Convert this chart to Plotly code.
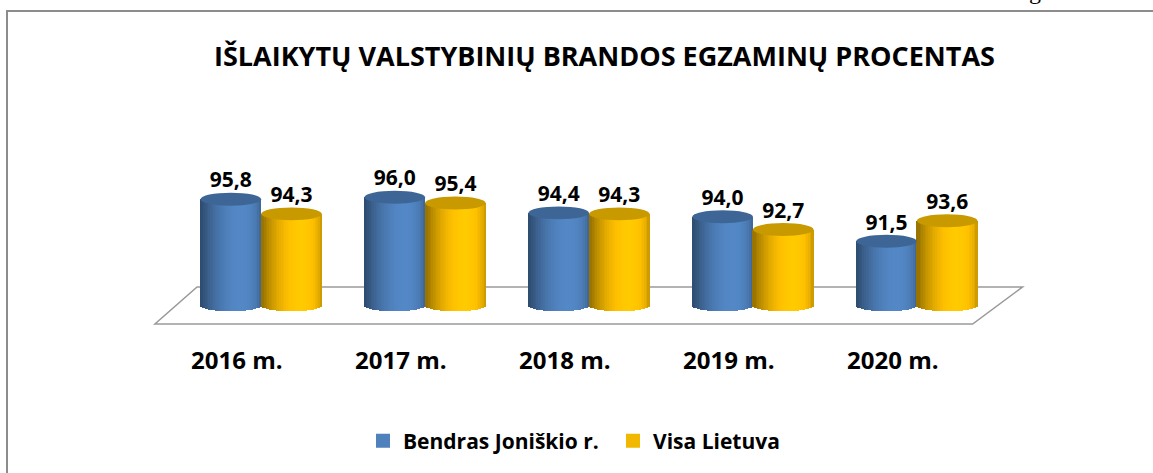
import math
import plotly.graph_objects as go

# ---- data ----
categories = ["2016 m.", "2017 m.", "2018 m.", "2019 m.", "2020 m."]
joniskio = [95.8, 96.0, 94.4, 94.0, 91.5]
lietuva = [94.3, 95.4, 94.3, 92.7, 93.6]
series_names = ["Bendras Joniškio r.", "Visa Lietuva"]
title_text = "IŠLAIKYTŲ VALSTYBINIŲ BRANDOS EGZAMINŲ PROCENTAS"

def fmt(v):
    return f"{v:.1f}".replace(".", ",")

# ---- geometry / style ----
W, H = 1153, 473
ML, MR, MT, MB = 130, 105, 158, 119
XR = [-0.8, 4.8]
YR = [80, 100]
BASE = 85.0
CYL_W = 0.37
E = 0.66           # half-height of ellipse caps (data units)
NSTRIP = 36
PW = W - ML - MR
PH = H - MT - MB

def px_to_paper_x(px):
    return (px - ML) / PW

def px_to_paper_y(py):
    return (H - MB - py) / PH

def shade(rgb, f):
    return "rgb(%d,%d,%d)" % tuple(max(0, min(255, int(round(c * f)))) for c in rgb)

series = [
    dict(vals=joniskio, off=-0.185, rgb=(79, 129, 189), cap="rgb(61,102,150)", name=series_names[0], leg="#4F81BD"),
    dict(vals=lietuva, off=0.185, rgb=(255, 192, 0), cap="rgb(200,154,0)", name=series_names[1], leg="#F2B800"),
]

fig = go.Figure()
shapes = []

# floor
fx_fl, fx_fr, fx_br, fx_bl = -0.648, len(categories) - 1 + 0.34, len(categories) - 1 + 0.645, -0.391
fy_front, fy_back = BASE - 1.94, BASE + 1.84
shapes.append(dict(type="path", xref="x", yref="y", layer="below",
                   path=f"M{fx_fl},{fy_front} L{fx_fr},{fy_front} L{fx_br},{fy_back} L{fx_bl},{fy_back} Z",
                   line=dict(color="#9A9A9A", width=1.5), fillcolor="white"))

for s in series:
    xs, offs, widths, bases, ys, cols = [], [], [], [], [], []
    for i, v in enumerate(s["vals"]):
        for k in range(NSTRIP):
            u = -1 + (2 * k + 1) / NSTRIP
            th = math.asin(max(-1, min(1, u)))
            inten = 0.6 + 0.45 * max(0.0, math.cos(th - 0.35)) ** 1.3
            b = BASE - E * math.sqrt(max(0.0, 1 - u * u))
            xs.append(i)
            offs.append(s["off"] - CYL_W / 2 + k * CYL_W / NSTRIP)
            widths.append(CYL_W / NSTRIP * 1.15)
            bases.append(b)
            ys.append(v - b)
            cols.append(shade(s["rgb"], inten))
        shapes.append(dict(type="circle", xref="x", yref="y",
                           x0=i + s["off"] - CYL_W / 2, x1=i + s["off"] + CYL_W / 2,
                           y0=v - E, y1=v + E, fillcolor=s["cap"], line=dict(width=0)))
    fig.add_trace(go.Bar(x=xs, y=ys, base=bases, offset=offs, width=widths,
                         marker=dict(color=cols, line=dict(width=0)),
                         showlegend=False, hoverinfo="skip"))
    fig.add_trace(go.Scatter(x=[i + s["off"] for i in range(len(s["vals"]))],
                             y=[v + E for v in s["vals"]],
                             text=[fmt(v) for v in s["vals"]], mode="text",
                             textposition="top center",
                             textfont=dict(family="Open Sans", size=21, color="black", weight="bold"),
                             showlegend=False, hoverinfo="skip"))

# legend entries
for s in series:
    fig.add_trace(go.Scatter(x=[None], y=[None], mode="markers", name=s["name"],
                             marker=dict(symbol="square", size=14, color=s["leg"])))

annotations = []
for i, c in enumerate(categories):
    annotations.append(dict(x=i, y=px_to_paper_y(359), xref="x", yref="paper",
                            text=f"<b>{c}</b>", showarrow=False, xshift=-24,
                            yanchor="middle", font=dict(family="Open Sans", size=24, color="black")))
annotations.append(dict(x=px_to_paper_x(604), y=px_to_paper_y(55), xref="paper", yref="paper",
                        text=f"<b>{title_text}</b>", showarrow=False, yanchor="middle",
                        font=dict(family="Open Sans", size=27, color="black")))
annotations.append(dict(x=px_to_paper_x(1043), y=px_to_paper_y(6), xref="paper", yref="paper",
                        text="g", showarrow=False, yanchor="bottom",
                        font=dict(family="Liberation Serif", size=24, color="black")))

# frame
shapes.append(dict(type="path", xref="paper", yref="paper",
                   path=(f"M{px_to_paper_x(7)},{px_to_paper_y(480)} L{px_to_paper_x(7)},{px_to_paper_y(11)} "
                         f"L{px_to_paper_x(1160)},{px_to_paper_y(11)}"),
                   line=dict(color="#8C8C8C", width=2)))

fig.update_layout(
    width=W, height=H, margin=dict(l=ML, r=MR, t=MT, b=MB),
    paper_bgcolor="white", plot_bgcolor="white",
    barmode="overlay", bargap=0,
    xaxis=dict(range=XR, showgrid=False, zeroline=False, showticklabels=False, showline=False, fixedrange=True),
    yaxis=dict(range=YR, showgrid=False, zeroline=False, showticklabels=False, showline=False, fixedrange=True),
    shapes=shapes, annotations=annotations,
    legend=dict(orientation="h", x=px_to_paper_x(363), xanchor="left", y=px_to_paper_y(441), yanchor="middle",
                font=dict(family="Open Sans", size=21, color="black", weight="bold"),
                itemsizing="trace", traceorder="normal", itemwidth=30,
                entrywidth=205, entrywidthmode="pixels"),
    showlegend=True,
)
fig.write_html("out.html", config={"displayModeBar": False},
               post_script="document.body.style.margin='0';document.body.style.overflow='hidden';")
